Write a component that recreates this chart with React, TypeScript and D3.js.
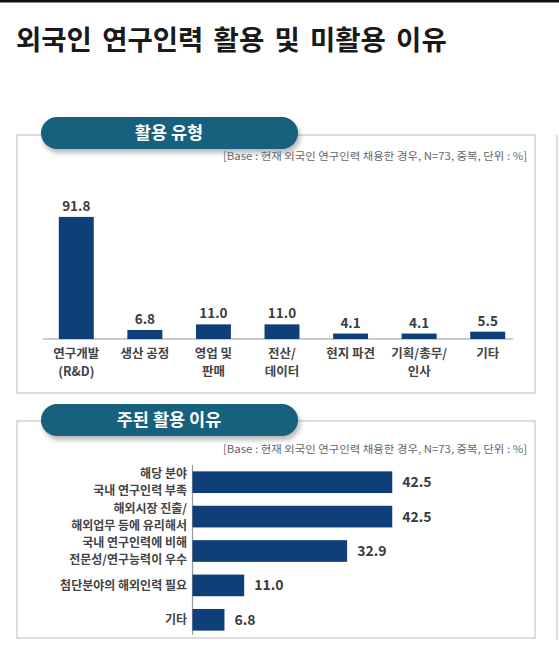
import * as d3 from "d3";

// ── Data ───────────────────────────────────────────────────────────────────────
const titleText = "외국인 연구인력 활용 및 미활용 이유";
const baseNote = "[Base : 현재 외국인 연구인력 채용한 경우, N=73, 중복, 단위 : %]";

const typeTitle = "활용 유형";
const typeLabels: string[][] = [
  ["연구개발", "(R&D)"],
  ["생산 공정"],
  ["영업 및", "판매"],
  ["전산/", "데이터"],
  ["현지 파견"],
  ["기획/총무/", "인사"],
  ["기타"],
];
const typeValues = [91.8, 6.8, 11.0, 11.0, 4.1, 4.1, 5.5];

const reasonTitle = "주된 활용 이유";
const reasonLabels: string[][] = [
  ["해당 분야", "국내 연구인력 부족"],
  ["해외시장 진출/", "해외업무 등에 유리해서"],
  ["국내 연구인력에 비해", "전문성/연구능력이 우수"],
  ["첨단분야의 해외인력 필요"],
  ["기타"],
];
const reasonValues = [42.5, 42.5, 32.9, 11.0, 6.8];

// ── Styles ─────────────────────────────────────────────────────────────────────
const W = 559;
const H = 672;
const FONT = "'Noto Sans CJK KR', 'Noto Sans', sans-serif";
const BAR = "#0f3f78";
const PILL = "#17607e";
const BORDER = "#d2d2d2";
const TEXT = "#3a3a3a";

// ── Section frame (box + pill + base note) ─────────────────────────────────────
function Panel({
  top,
  bottom,
  pillTop,
  label,
  noteY,
}: {
  top: number;
  bottom: number;
  pillTop: number;
  label: string;
  noteY: number;
}) {
  const pillH = 32;
  return (
    <g>
      <rect
        x={17}
        y={top}
        width={518}
        height={bottom - top}
        fill="#fff"
        stroke={BORDER}
        strokeWidth={1.5}
      />
      {/* shadow */}
      <rect
        x={43}
        y={pillTop + 4}
        width={257}
        height={pillH}
        rx={pillH / 2}
        fill="#000"
        opacity={0.28}
        filter="url(#blur)"
      />
      <rect x={41} y={pillTop} width={257} height={pillH} rx={pillH / 2} fill={PILL} />
      <text
        x={169}
        y={pillTop + pillH / 2 + 6}
        textAnchor="middle"
        fill="#fff"
        fontSize={17.5}
        fontWeight={700}
      >
        {label}
      </text>
      <text
        x={223}
        y={noteY}
        fill="#666"
        fontSize={10.5}
        textLength={304}
        lengthAdjust="spacingAndGlyphs"
      >
        {baseNote}
      </text>
    </g>
  );
}

// ── Component ──────────────────────────────────────────────────────────────────
export default function App() {
  // vertical bars
  const xType = d3
    .scaleBand<number>()
    .domain(d3.range(typeValues.length))
    .range([42, 522])
    .paddingInner(0.49)
    .paddingOuter(0.245);
  const yType = d3.scaleLinear().domain([0, 100]).range([339, 206]);

  // horizontal bars
  const yReason = d3
    .scaleBand<number>()
    .domain(d3.range(reasonValues.length))
    .range([465, 637])
    .paddingInner(0.37)
    .paddingOuter(0.185);
  const xReason = d3.scaleLinear().domain([0, 100]).range([192.5, 662.5]);

  return (
    <svg
      width={W}
      height={H}
      viewBox={`0 0 ${W} ${H}`}
      style={{ position: "absolute", left: 0, top: 0, background: "#fff" }}
      fontFamily={FONT}
    >
      <defs>
        <filter id="blur" x="-10%" y="-50%" width="120%" height="200%">
          <feGaussianBlur stdDeviation={2.5} />
        </filter>
      </defs>
      <rect width={W} height={H} fill="#fff" />
      <rect width={W} height={2.5} fill="#111" />

      <text x={16} y={50} fontSize={27.5} fontWeight={700} fill="#1a1a1a" wordSpacing={4}>
        {titleText}
      </text>

      {/* neighbouring panel edge */}
      <line x1={557} x2={557} y1={135} y2={640} stroke={BORDER} strokeWidth={1.5} />

      {/* ── Panel 1: 활용 유형 ── */}
      <Panel top={135} bottom={393} pillTop={117} label={typeTitle} noteY={160} />
      <line x1={43} x2={513} y1={yType(0)} y2={yType(0)} stroke="#999" strokeWidth={1.2} />
      {typeValues.map((v, i) => {
        const x = xType(i) as number;
        const cx = x + xType.bandwidth() / 2;
        return (
          <g key={i}>
            <rect
              x={x}
              y={yType(v)}
              width={xType.bandwidth()}
              height={yType(0) - yType(v)}
              fill={BAR}
            />
            <text
              x={cx}
              y={yType(v) - 6}
              textAnchor="middle"
              fontSize={13.5}
              fontWeight={700}
              fill={TEXT}
            >
              {v.toFixed(1)}
            </text>
            {typeLabels[i].map((line, j) => (
              <text
                key={j}
                x={cx}
                y={358 + j * 17.5}
                textAnchor="middle"
                fontSize={12.5}
                fontWeight={700}
                fill="#444"
              >
                {line}
              </text>
            ))}
          </g>
        );
      })}

      {/* ── Panel 2: 주된 활용 이유 ── */}
      <Panel top={421} bottom={638} pillTop={404} label={reasonTitle} noteY={453} />
      <line
        x1={xReason(0)}
        x2={xReason(0)}
        y1={465}
        y2={635}
        stroke="#999"
        strokeWidth={1.2}
      />
      {reasonValues.map((v, i) => {
        const y = yReason(i) as number;
        const cy = y + yReason.bandwidth() / 2;
        const lines = reasonLabels[i];
        return (
          <g key={i}>
            <rect
              x={xReason(0)}
              y={y}
              width={xReason(v) - xReason(0)}
              height={yReason.bandwidth()}
              fill={BAR}
            />
            <text
              x={xReason(v) + 10}
              y={cy + 5}
              fontSize={14}
              fontWeight={700}
              fill={TEXT}
            >
              {v.toFixed(1)}
            </text>
            {lines.map((line, j) => (
              <text
                key={j}
                x={187}
                y={cy + 4.5 + (j - (lines.length - 1) / 2) * 17}
                textAnchor="end"
                fontSize={12}
                fontWeight={700}
                fill="#444"
              >
                {line}
              </text>
            ))}
          </g>
        );
      })}
    </svg>
  );
}
